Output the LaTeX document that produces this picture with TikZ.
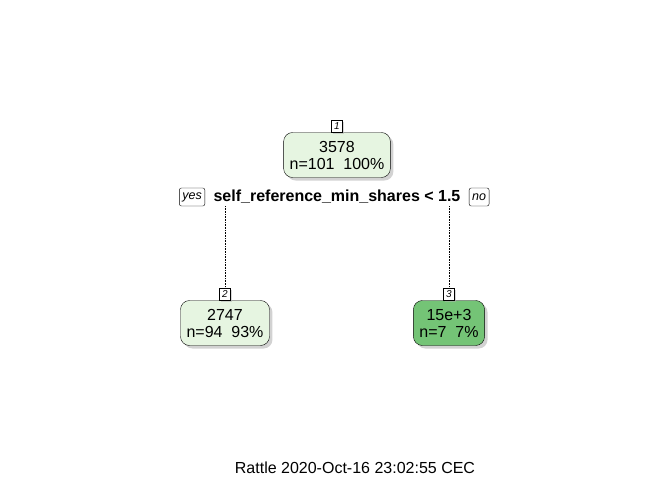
\documentclass[tikz,border=0pt]{standalone}
\usepackage{fontspec}
\setmainfont{Liberation Sans}
\usetikzlibrary{shadows,positioning}
\definecolor{leafpale}{HTML}{E6F5E1}
\definecolor{leafdark}{HTML}{74C476}
\tikzset{
    treenode/.style={rectangle, draw, rounded corners=9pt, fill=leafpale, align=center, inner xsep=6pt, minimum height=45pt, font=\fontsize{16}{17}\selectfont, drop shadow={shadow xshift=3pt, shadow yshift=-3pt, fill=black!35}},
    numlabel/.style={rectangle, draw, fill=white, inner sep=0pt, minimum width=11pt, minimum height=12pt, font=\fontsize{10}{11}\selectfont\itshape, drop shadow={shadow xshift=1.5pt, shadow yshift=-1.5pt, fill=black!30}},
    sidelabel/.style={rectangle, draw, rounded corners=2pt, fill=white, inner xsep=3pt, minimum height=18pt, font=\fontsize{12.5}{13}\selectfont\itshape},
    splittext/.style={font=\fontsize{16}{17}\selectfont\bfseries},
    branch/.style={draw, densely dotted, line width=0.6pt}
}
\begin{document}
\begin{tikzpicture}[x=1pt, y=-1pt]
    \useasboundingbox [fill=white] (0,0) rectangle (672,480);
    % root
    \node [treenode] (root) at (337,155) {3578\\n=101~~100\%};
    \node [numlabel, above=0pt of root] (num1) {1};
    \node [splittext] (split) at (337,197) {self\_reference\_min\_shares < 1.5};
    \node [sidelabel, left=5pt of split] (yes) {yes};
    \node [sidelabel, right=5pt of split] (no) {no};
    % leaves
    \node [treenode] (left) at (225,323) {2747\\n=94~~93\%};
    \node [numlabel, above=0pt of left] (num2) {2};
    \node [treenode, fill=leafdark] (right) at (449,323) {15e+3\\n=7~~7\%};
    \node [numlabel, above=0pt of right] (num3) {3};
    \coordinate (ltop) at (225,206);
    \coordinate (rtop) at (449,206);
    \path [branch] (ltop) -- (num2.north);
    \path [branch] (rtop) -- (num3.north);
    % footer
    \node [font=\fontsize{16}{17}\selectfont] (stamp) at (355,468) {Rattle 2020-Oct-16 23:02:55 CEC};
\end{tikzpicture}
\end{document}
